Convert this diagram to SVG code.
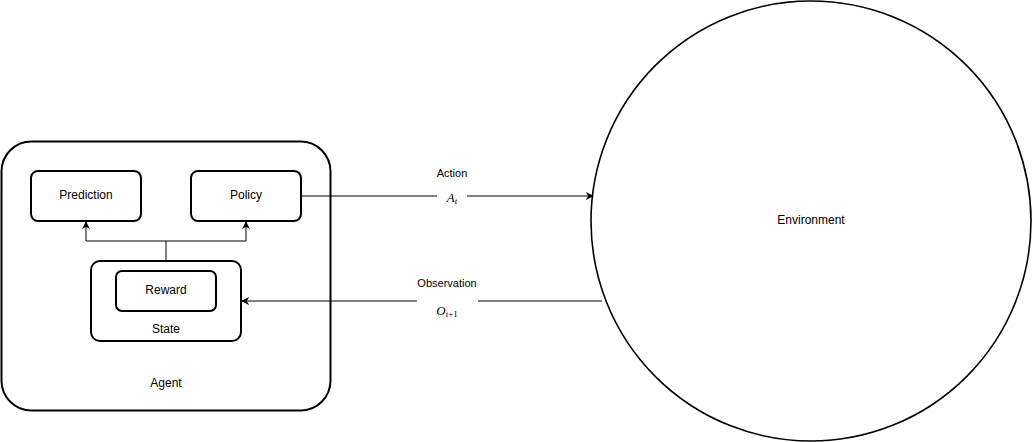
<svg xmlns="http://www.w3.org/2000/svg" width="1032" height="442" viewBox="0 0 1032 442">
<style>
.box{fill:#fff;stroke:#000;stroke-width:2}
.outer{fill:#fff;stroke:#000;stroke-width:1.6}
.lbl{font-family:"Liberation Sans",Arial,sans-serif;font-size:12px;fill:#000;text-anchor:middle;dominant-baseline:central}
.el{font-family:"Liberation Sans",Arial,sans-serif;font-size:11px;fill:#000;text-anchor:middle;dominant-baseline:central}
.math{font-family:"Liberation Serif","Times New Roman",serif;font-style:italic;font-size:13px;fill:#000;text-anchor:middle}
.sub{font-size:9px}
.up{font-style:normal}
.edge{fill:none;stroke:#000;stroke-width:1}
</style>
<defs>
<marker id="arr" viewBox="0 0 10 10" refX="9" refY="5" markerWidth="8" markerHeight="8" markerUnits="userSpaceOnUse" orient="auto">
<path d="M0,0 L10,5 L0,10 L3,5 Z" fill="#000"/>
</marker>
</defs>
<g id="environment">
<ellipse class="outer" cx="811" cy="221" rx="220" ry="220"/>
<text class="lbl" x="811" y="220">Environment</text>
</g>
<g id="agent">
<rect class="box" x="1.5" y="141.5" width="329" height="269" rx="30"/>
<text class="lbl" x="166" y="383">Agent</text>
</g>
<g id="prediction">
<rect class="box" x="31" y="171" width="110" height="50" rx="7"/>
<text class="lbl" x="86" y="195">Prediction</text>
</g>
<g id="policy">
<rect class="box" x="191" y="171" width="110" height="50" rx="7"/>
<text class="lbl" x="246" y="195">Policy</text>
</g>
<g id="state">
<rect class="box" x="91" y="261" width="150" height="80" rx="9"/>
<text class="lbl" x="166" y="329">State</text>
</g>
<g id="reward">
<rect class="box" x="116" y="271" width="100" height="40" rx="6"/>
<text class="lbl" x="166" y="290">Reward</text>
</g>
<g id="connectors">
<path class="edge" d="M166,261 V241 H86 V222" marker-end="url(#arr)"/>
<path class="edge" d="M166,241 H246 V222" marker-end="url(#arr)"/>
<path class="edge" d="M301,196 H437 M467,196 H593" marker-end="url(#arr)"/>
<path class="edge" d="M602,301 H478 M417,301 H242" marker-end="url(#arr)"/>
<text class="el" x="452" y="173">Action</text>
<text class="math" x="452" y="202">A<tspan class="sub" dy="2">t</tspan></text>
<text class="el" x="447" y="283">Observation</text>
<text class="math" x="447" y="315">O<tspan class="sub" dy="2">t<tspan class="up">+1</tspan></tspan></text>
</g>
</svg>
